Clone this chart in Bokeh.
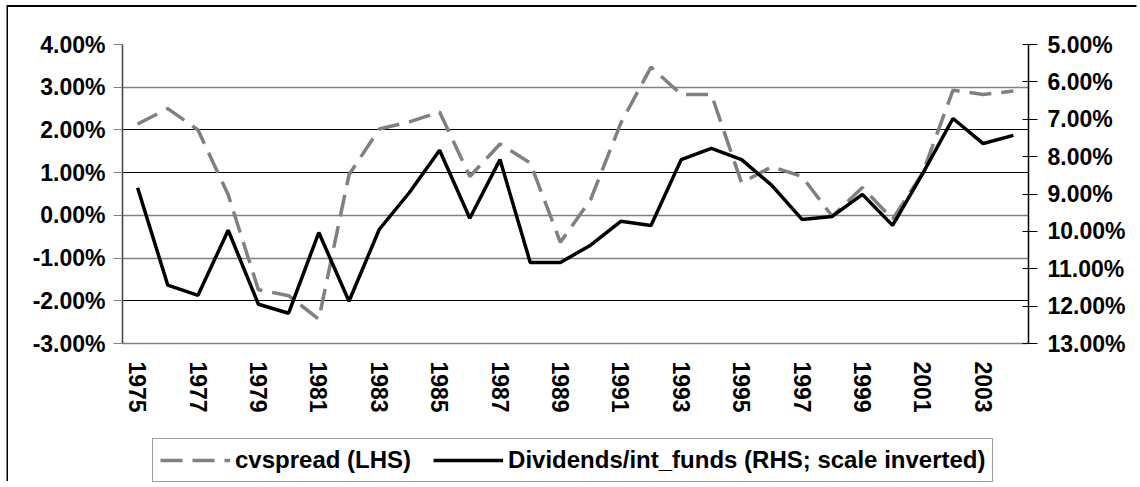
from bokeh.plotting import figure
from bokeh.layouts import column
from bokeh.models import (Range1d, LinearAxis, FixedTicker, PrintfTickFormatter,
                          Legend, LegendItem, Grid)
from bokeh.embed import file_html
from bokeh.resources import INLINE

years = [1975, 1976, 1977, 1978, 1979, 1980, 1981, 1982, 1983, 1984,
         1985, 1986, 1987, 1988, 1989, 1990, 1991, 1992, 1993, 1994,
         1995, 1996, 1997, 1998, 1999, 2000, 2001, 2002, 2003, 2004]
cvspread = [2.14, 2.50, 2.00, 0.48, -1.74, -1.88, -2.43, 0.95, 2.02, 2.19,
            2.42, 0.91, 1.67, 1.23, -0.63, 0.37, 2.16, 3.47, 2.83, 2.83,
            0.76, 1.14, 0.91, -0.02, 0.65, -0.09, 1.00, 2.93, 2.83, 2.91]
dividends = [8.83, 11.44, 11.71, 9.97, 11.95, 12.19, 10.03, 11.87, 9.95, 8.96,
             7.83, 9.65, 8.08, 10.83, 10.83, 10.37, 9.73, 9.84, 8.08, 7.78,
             8.08, 8.77, 9.68, 9.60, 9.01, 9.84, 8.45, 6.98, 7.65, 7.43]
x_tick_years = [1975, 1977, 1979, 1981, 1983, 1985, 1987, 1989, 1991, 1993,
                1995, 1997, 1999, 2001, 2003]
lhs_ticks = [-3, -2, -1, 0, 1, 2, 3, 4]
rhs_ticks = [5, 6, 7, 8, 9, 10, 11, 12, 13]
label_cvspread = "cvspread (LHS)"
label_div = "Dividends/int_funds (RHS; scale inverted)"

FONT = "Liberation Sans"
GRAY = "#808080"
DASH = "22 10"

p = figure(width=1130, height=420, output_backend="svg", toolbar_location=None,
           x_range=Range1d(1974.5, 2004.5), y_range=Range1d(-3, 4),
           min_border_left=114, min_border_right=110, min_border_top=37,
           min_border_bottom=84)
p.outline_line_color = None
p.extra_y_ranges = {"rhs": Range1d(start=13, end=5)}

# grids
p.xgrid.visible = False
p.ygrid.ticker = FixedTicker(ticks=[2, 1, -2])
p.ygrid.grid_line_color = "#000000"
p.ygrid.grid_line_width = 1
g2 = Grid(dimension=1, ticker=FixedTicker(ticks=[4, 3, 0, -1]),
          grid_line_color=GRAY, grid_line_width=1.5)
p.add_layout(g2)

# x axis
xa = p.xaxis[0]
xa.ticker = FixedTicker(ticks=x_tick_years)
xa.major_label_orientation = "vertical"
xa.major_tick_out = 0
xa.major_tick_in = 0
xa.minor_tick_out = 0
xa.minor_tick_in = 0
xa.major_label_standoff = 18
xa.axis_line_color = GRAY
xa.axis_line_width = 1.5
xa.major_label_text_font = FONT
xa.major_label_text_font_style = "bold"
xa.major_label_text_font_size = "23px"
xa.major_label_text_color = "#000000"

# left axis
ya = p.yaxis[0]
ya.ticker = FixedTicker(ticks=lhs_ticks)
ya.formatter = PrintfTickFormatter(format="%.2f%%")
ya.major_tick_out = 9
ya.major_tick_in = 0
ya.minor_tick_out = 0
ya.minor_tick_in = 0
ya.major_tick_line_color = GRAY
ya.axis_line_color = "#404040"
ya.axis_line_width = 1.5
ya.major_label_standoff = 8
ya.major_label_text_font = FONT
ya.major_label_text_font_style = "bold"
ya.major_label_text_font_size = "23px"
ya.major_label_text_color = "#000000"

# right axis (inverted)
ra = LinearAxis(y_range_name="rhs", ticker=FixedTicker(ticks=rhs_ticks),
                formatter=PrintfTickFormatter(format="%.2f%%"))
ra.major_tick_out = 9
ra.major_tick_in = 6
ra.minor_tick_out = 0
ra.minor_tick_in = 0
ra.axis_line_color = "#000000"
ra.axis_line_width = 1.5
ra.major_tick_line_color = "#000000"
ra.major_label_standoff = 10
ra.major_label_text_font = FONT
ra.major_label_text_font_style = "bold"
ra.major_label_text_font_size = "23px"
ra.major_label_text_color = "#000000"
p.add_layout(ra, "right")

p.line(years, cvspread, line_color=GRAY, line_width=3.5, line_dash=DASH)
p.line(years, dividends, y_range_name="rhs", line_color="#000000", line_width=3.5)

# legend strip below the chart (its own series lie outside its view)
pl = figure(width=1130, height=56, output_backend="svg", toolbar_location=None,
            x_range=Range1d(0, 1), y_range=Range1d(0, 1),
            x_axis_type=None, y_axis_type=None,
            min_border_left=0, min_border_right=0, min_border_top=0,
            min_border_bottom=0)
pl.outline_line_color = None
pl.grid.visible = False
l1 = pl.line(years, cvspread, line_color=GRAY, line_width=3.5, line_dash=DASH)
l2 = pl.line(years, dividends, line_color="#000000", line_width=3.5)

legend = Legend(items=[LegendItem(label=label_cvspread, renderers=[l1]),
                       LegendItem(label=label_div, renderers=[l2])],
                orientation="horizontal", location=(30, 1))
legend.label_text_font = FONT
legend.label_text_font_style = "bold"
legend.label_text_font_size = "24px"
legend.label_text_color = "#000000"
legend.glyph_width = 70
legend.glyph_height = 22
legend.label_height = 22
legend.label_standoff = 5
legend.spacing = 22
legend.padding = 7
legend.margin = 0
legend.border_line_color = "#404040"
legend.border_line_width = 1.5
legend.background_fill_color = "#ffffff"
legend.background_fill_alpha = 1.0
pl.add_layout(legend, "center")

layout = column(p, pl, spacing=0)
layout.styles = {"margin-left": "8px", "margin-top": "7px",
                 "box-shadow": "-1.5px -2px 0 0 #000000"}

open("out.html", "w").write(file_html(layout, INLINE))
